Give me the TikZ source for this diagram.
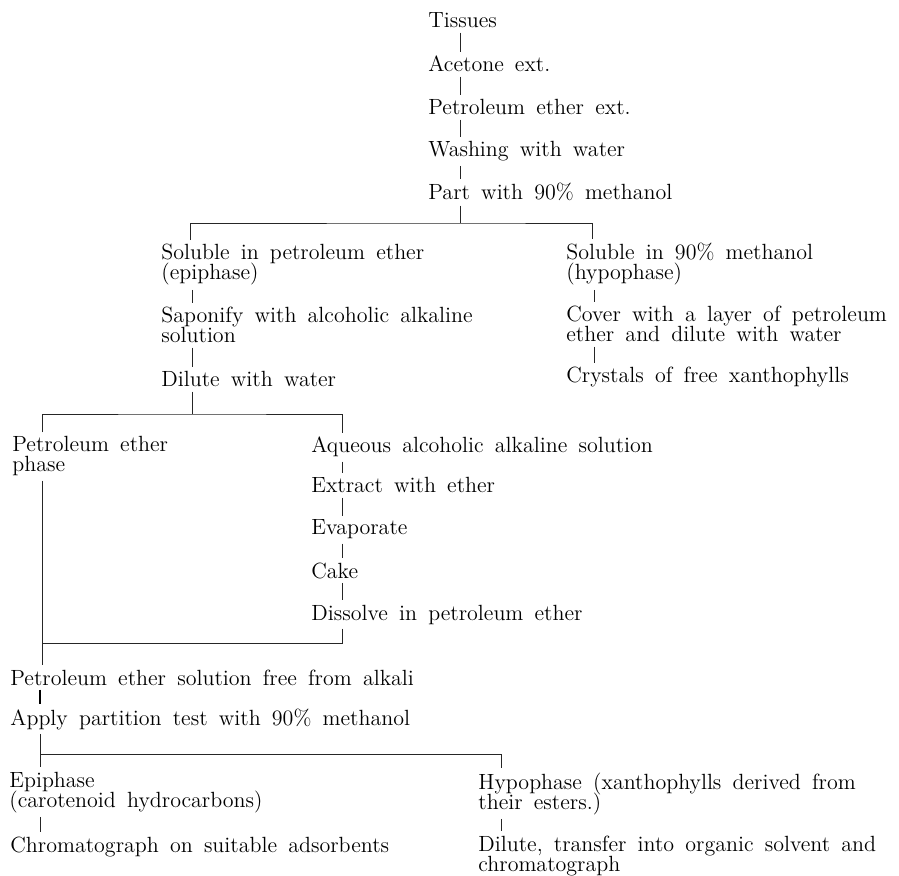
\documentclass[tikz,border=0pt]{standalone}
\usepackage{tikz}
\usetikzlibrary{positioning}
\newcommand\flowfont{\fontsize{11}{10}\selectfont\lineskiplimit=-20pt\spaceskip=5.6pt plus 1pt\relax}

\begin{document}
\begin{tikzpicture}[
    x=0.5pt, y=-0.5pt,
    stage/.style={
        anchor=base west,
        align=left,
        inner xsep=0pt,
        inner ysep=2pt,
        font=\flowfont
    },
    link/.style={draw=black!85, line width=0.45pt},
    boldlink/.style={draw=black, line width=1.3pt}
]
\useasboundingbox (0,0) rectangle (899,876);

% ---------------- Extraction ----------------
\node[stage] (tis) at (428,28) {Tissues};
\node[stage] (ace) at (428,72) {Acetone ext.};
\node[stage] (pet) at (428,115) {Petroleum ether ext.};
\node[stage] (wash) at (428,157) {Washing with water};
\node[stage] (part) at (428,200) {Part with 90\% methanol};

\draw[link] ([xshift=16pt]tis.south west) -- ([xshift=16pt]ace.north west);
\draw[link] ([xshift=16pt]ace.south west) -- ([xshift=16pt]pet.north west);
\draw[link] ([xshift=16pt]pet.south west) -- ([xshift=16pt]wash.north west);
\draw[link] ([xshift=16pt]wash.south west) -- ([xshift=16pt]part.north west);

% ---------------- First partition ----------------
% (two-line nodes sit on the baseline of their last line)
\coordinate (b1) at (460,223);
\node[stage] (sol) at (161,280) {Soluble in petroleum ether\\(epiphase)};
\node[stage] (sap) at (161,343) {Saponify with alcoholic alkaline\\solution};
\node[stage] (dil) at (161,387) {Dilute with water};

\node[stage] (solm) at (566,280) {Soluble in 90\% methanol\\(hypophase)};
\node[stage] (cover) at (566,342) {Cover with a layer of petroleum\\ether and dilute with water};
\node[stage] (cryst) at (566,383) {Crystals of free xanthophylls};

\draw[link] ([xshift=16pt]part.south west) -- (b1);
\draw[link] ([xshift=14.5pt]sol.north west) |- (b1) -| ([xshift=13pt]solm.north west);
\draw[link] ([xshift=15.5pt]sol.south west) -- ([xshift=15.5pt]sap.north west);
\draw[link] ([xshift=15.5pt]sap.south west) -- ([xshift=15.5pt]dil.north west);
\draw[link] ([xshift=14pt]solm.south west) -- ([xshift=14pt]cover.north west);
\draw[link] ([xshift=14pt]cover.south west) -- ([xshift=14pt]cryst.north west);

% ---------------- Saponification ----------------
\coordinate (b2) at (192,414);
\coordinate (j1) at (42,643);
\node[stage] (pph) at (12,472) {Petroleum ether\\phase};
\node[stage] (aq) at (311,453) {Aqueous alcoholic alkaline solution};
\node[stage] (ext) at (311,493) {Extract with ether};
\node[stage] (evap) at (311,535) {Evaporate};
\node[stage] (cake) at (311,578) {Cake};
\node[stage] (diss) at (311,620) {Dissolve in petroleum ether};

\draw[link] ([xshift=15.5pt]dil.south west) -- (b2);
\draw[link] ([xshift=15pt]pph.north west) |- (b2) -| ([xshift=15.5pt]aq.north west);
\draw[link] ([xshift=15.5pt]aq.south west) -- ([xshift=15.5pt]ext.north west);
\draw[link] ([xshift=15.5pt]ext.south west) -- ([xshift=15.5pt]evap.north west);
\draw[link] ([xshift=15.5pt]evap.south west) -- ([xshift=15.5pt]cake.north west);
\draw[link] ([xshift=15.5pt]cake.south west) -- ([xshift=15.5pt]diss.north west);
\draw[link] ([xshift=15.5pt]diss.south west) |- (j1);

% ---------------- Partition test ----------------
\coordinate (b3) at (40,754);
\node[stage] (pes) at (10,685) {Petroleum ether solution free from alkali};
\node[stage] (app) at (10,725) {Apply partition test with 90\% methanol};
\node[stage] (epi) at (9,807) {Epiphase\\(carotenoid hydrocarbons)};
\node[stage] (chr) at (10,852) {Chromatograph on suitable adsorbents};
\node[stage] (hyp) at (478,809) {Hypophase (xanthophylls derived from\\their esters.)};
\node[stage] (dilt) at (478,871) {Dilute, transfer into organic solvent and\\chromatograph};

\draw[link] ([xshift=15pt]pph.south west) -- ([xshift=15pt]pph.south west |- pes.north);
\draw[boldlink] ([xshift=15pt]pes.south west) -- ([xshift=15pt]app.north west);
\draw[link] ([xshift=15pt]app.south west) -- ([xshift=15.5pt]epi.north west);
\draw[link] (b3) -| ([xshift=11.5pt]hyp.north west);
\draw[link] ([xshift=15.5pt]epi.south west) -- ([xshift=15pt]chr.north west);
\draw[link] ([xshift=11.5pt]hyp.south west) -- ([xshift=11.5pt]dilt.north west);

\end{tikzpicture}
\end{document}
